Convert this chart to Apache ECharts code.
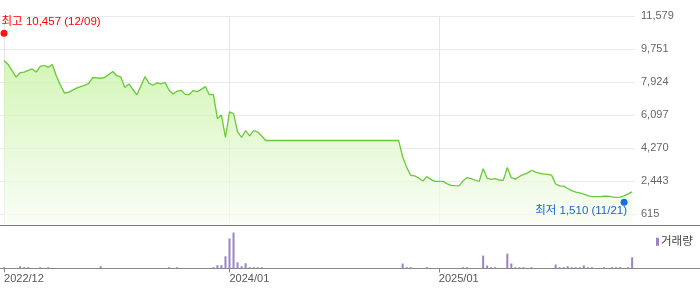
<!DOCTYPE html>
<html>
<head>
<meta charset="utf-8">
<script src="https://cdn.jsdelivr.net/npm/echarts@6/dist/echarts.min.js"></script>
<style>
html,body{margin:0;padding:0;background:#fff;}
#chart{width:700px;height:289px;}
</style>
</head>
<body>
<div id="chart"></div>
<script>
// ---- data ----
const firstWeek = '2022-12-09';          // weekly closes, one per week
const priceValues = [
  9119,8910,8557,8205,8447,8480,8574,8656,8480,8794,
  8844,8744,8899,8266,7759,7324,7357,7479,7594,7671,
  7748,7836,8172,8161,8139,8183,8348,8513,8277,8211,
  7633,7825,7517,7214,7721,8227,7869,7754,7886,7825,
  7908,7479,7264,7429,7473,7247,7236,7457,7396,7523,
  7682,7231,7231,5910,6103,4864,6279,6185,5194,4864,
  5249,4958,5249,5167,4947,4699,4699,4699,4699,4699,
  4699,4699,4699,4699,4699,4699,4699,4699,4699,4699,
  4699,4699,4699,4699,4699,4699,4699,4699,4699,4699,
  4699,4699,4699,4699,4699,4699,4699,4699,4699,3802,
  3213,2773,2740,2624,2459,2701,2552,2442,2442,2437,
  2316,2222,2206,2195,2470,2641,2585,2514,2431,3136,
  2602,2552,2585,2514,2497,3207,2641,2563,2712,2817,
  2894,3053,2954,2888,2855,2828,2784,2294,2189,2173,
  2046,1925,1842,1798,1738,1650,1600,1600,1600,1617,
  1622,1578,1551,1567,1639,1749,1859
];
const volumeValues = [
  13000,0,0,0,23000,13000,13000,0,0,13000,
  0,13000,0,0,0,0,0,0,0,0,
  0,0,0,0,23000,0,0,0,0,0,
  0,0,0,0,0,0,0,0,0,0,
  0,13000,0,13000,0,0,0,0,0,0,
  0,0,13000,33000,33000,123000,303000,363000,63000,23000,
  53000,13000,13000,13000,13000,0,0,0,0,0,
  0,0,0,0,0,0,0,0,0,0,
  0,0,0,0,0,0,0,0,0,0,
  0,0,0,0,0,0,0,0,0,50000,
  13000,13000,0,0,0,13000,0,0,0,0,
  0,0,0,0,13000,13000,0,0,0,130000,
  30000,13000,13000,0,0,150000,50000,13000,13000,13000,
  0,13000,0,0,0,0,0,40000,13000,13000,
  23000,13000,13000,13000,30000,13000,13000,0,0,13000,
  0,13000,13000,13000,0,13000,113000
];
const highPoint = ['2022-12-09', 10457];
const lowPoint = ['2025-11-21', 1510];
const priceTicks = [615, 2443, 4270, 6097, 7924, 9751, 11579];
const dateTicks = ['2022-12-09', '2024-01-05', '2025-01-03'];
const volumeName = '거래량';

// ---- build ----
function ts(s){const p=s.split('-').map(Number);return Date.UTC(p[0],p[1]-1,p[2]);}
const DAY = 86400000;
const weekTimes = priceValues.map((_, i) => ts(firstWeek) + 7*DAY*i);
const priceData = weekTimes.map((t,i)=>[t, priceValues[i]]);
const volumeData = weekTimes.map((t,i)=>[t, volumeValues[i]]);
const dateTickVals = dateTicks.map(ts);
function pad(n){return (n<10?'0':'')+n;}
function ym(v){const d=new Date(v);return d.getUTCFullYear()+'/'+pad(d.getUTCMonth()+1);}
function fmtNum(v){return Number(v).toLocaleString('en-US');}
function md(s){const p=s.split('-');return p[1]+'/'+p[2];}

const FONT = "'Liberation Sans','Noto Sans CJK KR',sans-serif";
const X_MIN = ts('2022-12-02'), X_MAX = ts('2025-12-10');

const chart = echarts.init(document.getElementById('chart'), null, {renderer:'canvas'});
chart.setOption({
  animation: false,
  backgroundColor: '#ffffff',
  textStyle: {fontFamily: FONT},
  grid: [
    {left: 0, right: 65, top: 16, height: 209.5},
    {left: 0, right: 65, top: 232.5, height: 36}
  ],
  legend: {
    data: [volumeName], left: 651, top: 231, icon: 'rect',
    itemWidth: 3, itemHeight: 8, itemGap: 0,
    textStyle: {fontSize: 11.5, color: '#444', fontFamily: FONT, padding: [0,0,0,-3]}
  },
  xAxis: [
    {type: 'value', gridIndex: 0, min: X_MIN, max: X_MAX,
     axisLine: {show: false}, axisLabel: {show: false},
     axisTick: {show: false, customValues: dateTickVals},
     splitLine: {show: true, lineStyle: {color: '#e6e6e6', width: 1}}},
    {type: 'value', gridIndex: 1, min: X_MIN, max: X_MAX,
     axisLine: {show: false},
     axisTick: {show: true, customValues: dateTickVals, length: 4, lineStyle: {color: '#888'}},
     axisLabel: {show: true, customValues: dateTickVals, align: 'left', margin: 5,
       fontSize: 11, color: '#555', fontFamily: FONT, formatter: v => ym(v)},
     splitLine: {show: false}}
  ],
  yAxis: [
    {type: 'value', gridIndex: 0, position: 'right', min: 0, max: 11579,
     axisLine: {show: false},
     axisTick: {show: false, customValues: priceTicks},
     axisLabel: {customValues: priceTicks, margin: 6, fontSize: 11, color: '#666', fontFamily: FONT,
       formatter: v => fmtNum(v)},
     splitLine: {show: true, lineStyle: {color: '#ebebeb', width: 1}}},
    {type: 'value', gridIndex: 1, min: 0, max: 'dataMax', show: false, splitLine: {show: false}}
  ],
  series: [
    {type: 'line', name: '종가', xAxisIndex: 0, yAxisIndex: 0, data: priceData,
     showSymbol: false, symbol: 'none',
     lineStyle: {color: '#68ca35', width: 1.3},
     areaStyle: {color: new echarts.graphic.LinearGradient(0,0,0,1,[
        {offset: 0, color: '#c2f29a'}, {offset: 1, color: '#f8fdf4'}])},
     markPoint: {
       symbol: 'circle', symbolSize: 7, silent: true,
       data: [
         {coord: [ts(highPoint[0]), highPoint[1]], symbolOffset: [0, -3], itemStyle: {color: '#ff1010'},
          label: {show: true, formatter: '최고 ' + fmtNum(highPoint[1]) + ' (' + md(highPoint[0]) + ')',
            position: [1, -8], align: 'left', verticalAlign: 'middle',
            color: '#ff0000', fontSize: 11.5, fontFamily: FONT}},
         {coord: [ts(lowPoint[0]), lowPoint[1]], symbolOffset: [0, 4], itemStyle: {color: '#1a6fdc'},
          label: {show: true, formatter: '최저 ' + fmtNum(lowPoint[1]) + ' (' + md(lowPoint[0]) + ')',
            position: [6.5, 12], align: 'right', verticalAlign: 'middle',
            color: '#1565d8', fontSize: 11.5, fontFamily: FONT}}
       ]
     }},
    {type: 'bar', name: volumeName, xAxisIndex: 1, yAxisIndex: 1, data: volumeData,
     barWidth: 2, itemStyle: {color: '#9a83c9'}}
  ],
  graphic: [
    {type: 'line', shape: {x1: 0, y1: 225.5, x2: 700, y2: 225.5}, style: {stroke: '#7a7a7a', lineWidth: 1}, z: 100},
    {type: 'line', shape: {x1: 0, y1: 268.5, x2: 700, y2: 268.5}, style: {stroke: '#888', lineWidth: 1}, z: 100}
  ]
});
</script>
</body>
</html>
